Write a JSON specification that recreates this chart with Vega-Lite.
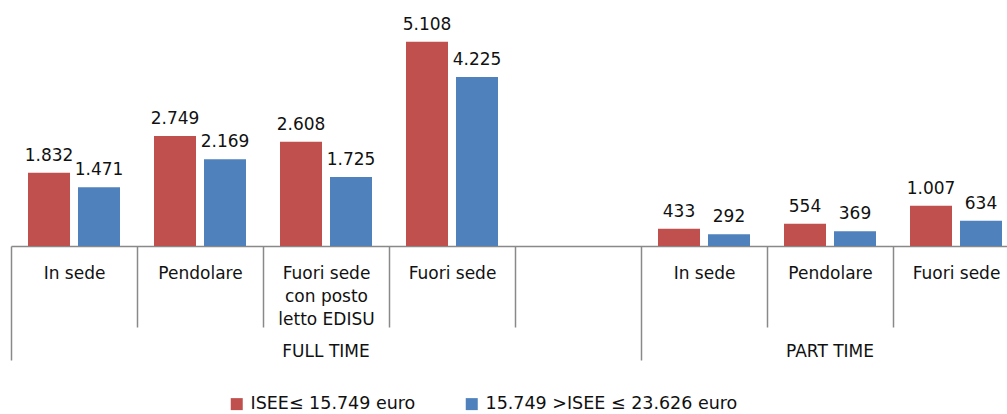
{
  "$schema": "https://vega.github.io/schema/vega-lite/v6.json",
  "width": 996,
  "height": 240,
  "autosize": {"type": "none"},
  "padding": {"left": 11, "top": 6, "right": 0, "bottom": 168},
  "config": {
    "font": "DejaVu Sans",
    "view": {"stroke": null},
    "locale": {"number": {"decimal": ",", "thousands": ".", "grouping": [3], "currency": ["", " €"]}}
  },
  "data": {
    "values": [
      {"slot": "s1", "series": "ISEE≤ 15.749 euro", "value": 1832},
      {"slot": "s1", "series": "15.749 >ISEE ≤ 23.626 euro", "value": 1471},
      {"slot": "s2", "series": "ISEE≤ 15.749 euro", "value": 2749},
      {"slot": "s2", "series": "15.749 >ISEE ≤ 23.626 euro", "value": 2169},
      {"slot": "s3", "series": "ISEE≤ 15.749 euro", "value": 2608},
      {"slot": "s3", "series": "15.749 >ISEE ≤ 23.626 euro", "value": 1725},
      {"slot": "s4", "series": "ISEE≤ 15.749 euro", "value": 5108},
      {"slot": "s4", "series": "15.749 >ISEE ≤ 23.626 euro", "value": 4225},
      {"slot": "s6", "series": "ISEE≤ 15.749 euro", "value": 433},
      {"slot": "s6", "series": "15.749 >ISEE ≤ 23.626 euro", "value": 292},
      {"slot": "s7", "series": "ISEE≤ 15.749 euro", "value": 554},
      {"slot": "s7", "series": "15.749 >ISEE ≤ 23.626 euro", "value": 369},
      {"slot": "s8", "series": "ISEE≤ 15.749 euro", "value": 1007},
      {"slot": "s8", "series": "15.749 >ISEE ≤ 23.626 euro", "value": 634}
    ]
  },
  "encoding": {
    "x": {
      "field": "slot",
      "type": "nominal",
      "scale": {"domain": ["s1", "s2", "s3", "s4", "s5", "s6", "s7", "s8"], "paddingInner": 0, "paddingOuter": 0, "range": [0, 1008]}
    },
    "xOffset": {
      "field": "series",
      "type": "nominal",
      "sort": ["ISEE≤ 15.749 euro", "15.749 >ISEE ≤ 23.626 euro"],
      "scale": {"paddingInner": 0.16, "paddingOuter": 0.34}
    },
    "y": {"field": "value", "type": "quantitative", "scale": {"domain": [0, 6000]}, "axis": null}
  },
  "layer": [
    {
      "mark": {"type": "bar"},
      "encoding": {
        "x": {
          "field": "slot",
          "type": "nominal",
          "axis": {
            "title": null,
            "domain": true,
            "domainColor": "#898989",
            "domainWidth": 1.5,
            "ticks": true,
            "tickBand": "extent",
            "tickColor": "#898989",
            "tickWidth": 1.5,
            "tickSize": {"condition": {"test": "datum.value === 's5' || datum.index === -1 || datum.extra", "value": 114}, "value": 81},
            "labelExpr": "datum.value === 's1' || datum.value === 's6' ? 'In sede' : datum.value === 's2' || datum.value === 's7' ? 'Pendolare' : datum.value === 's3' ? ['Fuori sede', 'con posto', 'letto EDISU'] : datum.value === 's4' || datum.value === 's8' ? 'Fuori sede' : ''",
            "labelFontSize": 17,
            "labelColor": "#111111",
            "labelLineHeight": 23,
            "labelBaseline": "top",
            "labelAngle": 0,
            "labelPadding": -62,
            "labelOverlap": false,
            "labelBound": false,
            "labelFlush": false,
            "labelLimit": 300,
            "grid": false
          }
        },
        "color": {
          "field": "series",
          "type": "nominal",
          "sort": ["ISEE≤ 15.749 euro", "15.749 >ISEE ≤ 23.626 euro"],
          "scale": {"domain": ["ISEE≤ 15.749 euro", "15.749 >ISEE ≤ 23.626 euro"], "range": ["#C0504D", "#4F81BD"]},
          "legend": {
            "orient": "none",
            "legendX": 217,
            "legendY": 389,
            "direction": "horizontal",
            "title": null,
            "padding": 0,
            "symbolType": "square",
            "symbolSize": 144,
            "symbolStrokeWidth": 0,
            "symbolOffset": 0,
            "labelFontSize": 17.5,
            "labelColor": "#111111",
            "labelOffset": 5,
            "columnPadding": 47,
            "labelLimit": 400
          }
        }
      }
    },
    {
      "mark": {"type": "text", "fontSize": 17, "baseline": "alphabetic", "dy": -12, "color": "#111111"},
      "encoding": {
        "x": {
          "field": "slot",
          "type": "nominal",
          "axis": {
            "orient": "bottom",
            "title": null,
            "values": ["s3", "s7"],
            "labelExpr": "datum.value === 's3' ? 'FULL TIME' : 'PART TIME'",
            "domain": false,
            "ticks": false,
            "grid": false,
            "labelAngle": 0,
            "labelBaseline": "top",
            "labelFontSize": 17,
            "labelColor": "#111111",
            "labelPadding": 97,
            "labelOverlap": false,
            "labelBound": false
          }
        },
        "text": {"field": "value", "type": "quantitative", "format": ",.0f"}
      }
    }
  ],
  "resolve": {"axis": {"x": "independent"}}
}
